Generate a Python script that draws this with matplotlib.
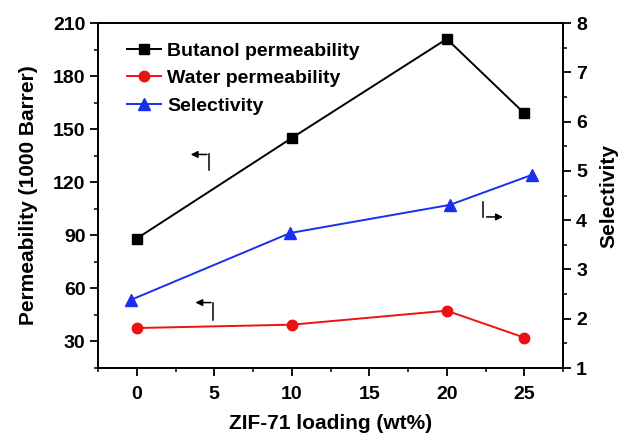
import matplotlib.pyplot as plt
import numpy as np

plt.rcParams['font.family'] = ['Liberation Sans', 'DejaVu Sans']
plt.rcParams['font.weight'] = 'bold'

loading = [0, 10, 20, 25]
butanol = [88.2, 145.0, 201.0, 159.0]
water = [37.6, 39.5, 47.4, 32.2]
sel_x = [-0.4, 9.9, 20.2, 25.5]
selectivity = [2.38, 3.74, 4.31, 4.92]

x_ticks = [0, 5, 10, 15, 20, 25]
left_ticks = [30, 60, 90, 120, 150, 180, 210]
right_ticks = [1, 2, 3, 4, 5, 6, 7, 8]

fig = plt.figure(figsize=(6.22, 4.34), dpi=100)
ax = fig.add_axes([0.1576, 0.152, 0.7476, 0.795])
ax2 = ax.twinx()

ln1, = ax.plot(loading, butanol, '-s', color='black', lw=1.4, ms=7, label='Butanol permeability')
ln2, = ax.plot(loading, water, '-o', color='#ee1111', lw=1.4, ms=7.5, label='Water permeability')
ln3, = ax2.plot(sel_x, selectivity, '-^', color='#1a2ff0', lw=1.4, ms=8.5, label='Selectivity')

ax.set_xlim(-2.5, 27.5)
ax.set_ylim(20, 210)
ax2.set_ylim(1, 8)
ax.set_xticks(x_ticks)
ax.set_xticks(np.arange(-2.5, 27.6, 2.5), minor=True)
ax.set_yticks(left_ticks)
ax.set_yticks(np.arange(15, 211, 15), minor=True)
ax2.set_yticks(right_ticks)
ax2.set_yticks(np.arange(1, 8.01, 0.5), minor=True)

for a in (ax, ax2):
    for s in a.spines.values():
        s.set_linewidth(1.3)
    a.tick_params(which='major', length=6, width=1.3, labelsize=14)
    a.tick_params(which='minor', length=3, width=1.1)
ax.tick_params(axis='y', pad=3)
ax.tick_params(axis='x', pad=7)

ax.set_xlabel('ZIF-71 loading (wt%)', fontsize=15, fontweight='bold', labelpad=8)
ax.set_ylabel('Permeability (1000 Barrer)', fontsize=15, fontweight='bold', labelpad=11)
ax2.set_ylabel('Selectivity', fontsize=15, fontweight='bold', labelpad=9)

ax.legend(handles=[ln1, ln2, ln3], loc='upper left', frameon=False, fontsize=14,
          bbox_to_anchor=(0.025, 0.995), handlelength=1.75, handletextpad=0.3, labelspacing=0.5)

# elbow arrows pointing to the axis each series belongs to
def elbow(x0, y0, y1, x1):
    ax.plot([x0, x0], [y0, y1], color='black', lw=1.1)
    ax.annotate('', xy=(x1, y1), xytext=(x0 + 0.05, y1),
                arrowprops=dict(arrowstyle='-|>', color='black', lw=1.1, mutation_scale=10))

elbow(4.66, 126.9, 135.7, 3.3)
elbow(4.92, 42.0, 52.0, 3.6)
elbow(22.34, 108.7, 100.4, 23.8)

fig.savefig('out.png', dpi=100)
